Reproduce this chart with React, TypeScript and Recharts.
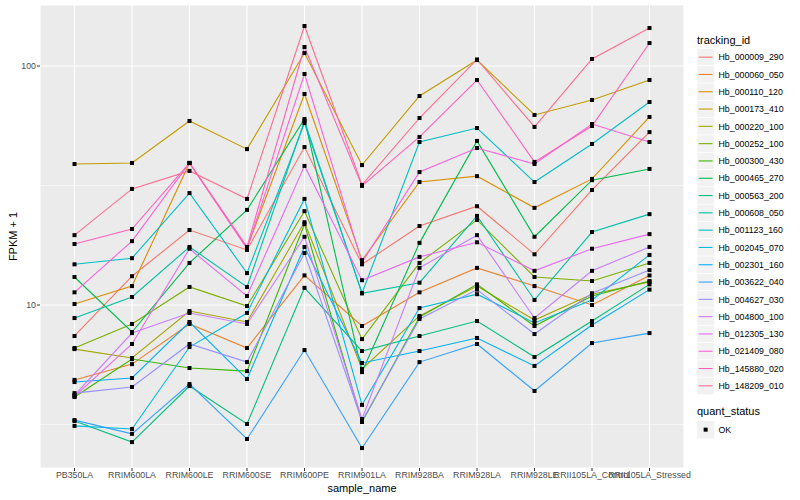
import React from 'react';
import { LineChart, Line, XAxis, YAxis, CartesianGrid, Customized } from 'recharts';

const categories = ['PB350LA', 'RRIM600LA', 'RRIM600LE', 'RRIM600SE', 'RRIM600PE', 'RRIM901LA', 'RRIM928BA', 'RRIM928LA', 'RRIM928LE', 'RRII105LA_Control', 'RRII105LA_Stressed'];

const trackingIds = ['Hb_000009_290', 'Hb_000060_050', 'Hb_000110_120', 'Hb_000173_410', 'Hb_000220_100', 'Hb_000252_100', 'Hb_000300_430', 'Hb_000465_270', 'Hb_000563_200', 'Hb_000608_050', 'Hb_001123_160', 'Hb_002045_070', 'Hb_002301_160', 'Hb_003622_040', 'Hb_004627_030', 'Hb_004800_100', 'Hb_012305_130', 'Hb_021409_080', 'Hb_145880_020', 'Hb_148209_010'];

const colors = ['#F8766D', '#EA8331', '#D89000', '#C09B00', '#A3A500', '#7CAE00', '#39B600', '#00BB4E', '#00BF7D', '#00C1A3', '#00BFC4', '#00BAE0', '#00B0F6', '#35A2FF', '#9590FF', '#C77CFF', '#E76BF3', '#FA62DB', '#FF62BC', '#FF6C91'];

const hb000009_290 = [7.42, 13.2, 20.6, 17.0, 45.8, 14.8, 21.4, 25.9, 16.3, 30.3, 52.9];
const hb000060_050 = [4.86, 5.66, 8.33, 6.61, 13.3, 8.17, 11.3, 14.3, 12.0, 10.0, 13.3];
const hb000110_120 = [10.1, 12.0, 39.3, 17.3, 76.4, 15.4, 32.7, 34.6, 25.5, 33.7, 61.2];
const hb000173_410 = [38.9, 39.3, 58.9, 44.9, 113.3, 38.5, 74.9, 105.9, 62.4, 72.1, 87.4];
const hb000220_100 = [6.54, 6.0, 9.44, 8.49, 22.2, 5.4, 9.0, 12.0, 8.65, 11.1, 12.5];
const hb000252_100 = [6.61, 8.33, 11.9, 9.9, 24.7, 7.2, 15.0, 22.7, 13.1, 12.6, 15.0];
const hb000300_430 = [4.12, 5.94, 5.45, 5.29, 21.8, 3.24, 8.9, 12.2, 8.17, 10.9, 12.6];
const hb000465_270 = [13.1, 7.71, 15.0, 25.0, 60.0, 5.24, 18.2, 48.6, 19.3, 33.3, 37.1];
const hb000563_200 = [3.27, 2.67, 4.58, 3.18, 11.8, 6.42, 7.42, 8.57, 6.06, 8.57, 12.2];
const hb000608_050 = [8.82, 10.8, 17.5, 11.9, 58.9, 11.2, 12.4, 23.6, 10.5, 20.2, 24.0];
const hb001123_160 = [14.8, 15.7, 29.4, 13.6, 57.7, 11.2, 48.1, 55.0, 32.7, 47.2, 70.7];
const hb002045_070 = [3.12, 3.03, 6.67, 9.26, 27.8, 3.82, 9.71, 11.1, 8.41, 10.5, 16.2];
const hb002301_160 = [4.76, 4.95, 8.49, 4.9, 17.5, 5.72, 6.42, 7.28, 5.56, 8.25, 11.6];
const hb003622_040 = [3.3, 2.89, 4.67, 2.75, 6.48, 2.52, 5.77, 6.87, 4.37, 6.93, 7.63];
const hb004627_030 = [4.28, 4.54, 6.87, 5.77, 16.5, 3.27, 8.74, 11.6, 7.56, 11.2, 14.0];
const hb004800_100 = [4.2, 7.63, 9.26, 8.33, 19.3, 3.33, 14.3, 19.6, 8.82, 13.9, 17.5];
const hb012305_130 = [4.15, 6.87, 17.2, 10.9, 38.2, 12.7, 15.9, 18.3, 13.9, 17.2, 19.8];
const hb021409_080 = [11.3, 18.5, 39.3, 17.2, 92.6, 15.1, 36.0, 45.4, 38.9, 57.2, 48.1];
const hb145880_020 = [18.0, 20.8, 39.3, 17.5, 120.1, 31.5, 50.5, 87.4, 39.7, 56.1, 124.8];
const hb148209_010 = [19.6, 30.6, 36.4, 27.8, 147.0, 31.8, 60.6, 106.5, 55.6, 107.0, 144.2];

const seriesValues = [hb000009_290, hb000060_050, hb000110_120, hb000173_410, hb000220_100, hb000252_100, hb000300_430, hb000465_270, hb000563_200, hb000608_050, hb001123_160, hb002045_070, hb002301_160, hb003622_040, hb004627_030, hb004800_100, hb012305_130, hb021409_080, hb145880_020, hb148209_010];

const yDomain = [2.08, 180];
const yMajorTicks = [10, 100];
const yMinorBreaks = [3.1623, 31.623];
const xTicks = categories.map((_, i) => i);

const data = categories.map((name, i) => {
  const row: any = { idx: i, name };
  seriesValues.forEach((vals, s) => { row['s' + s] = vals[i]; });
  return row;
});

const FONT = "'Liberation Sans', Arial, Helvetica, sans-serif";

const minorGenerator = (p: any) => {
  let top = 5;
  let h = 463;
  try {
    if (p && p.offset && typeof p.offset.top === 'number') { top = p.offset.top; h = p.offset.height; }
  } catch (e) { /* keep defaults */ }
  const lo = Math.log10(yDomain[0]);
  const hi = Math.log10(yDomain[1]);
  return yMinorBreaks.map((v) => top + (h * (hi - Math.log10(v))) / (hi - lo));
};

const Square = (props: any) => {
  const { cx, cy, index, dataKey } = props;
  if (cx == null || cy == null) return <g key={`${dataKey}-${index}`} />;
  return <rect key={`${dataKey}-${index}`} x={cx - 2} y={cy - 2} width={4} height={4} fill="#000" />;
};

const LegendSvg = () => {
  const x0 = 697;
  const top = 48.5;
  const step = 17.3;
  return (
    <g fontFamily={FONT}>
      <text x={x0} y={44} fontSize={11} fill="#000">tracking_id</text>
      {trackingIds.map((id, i) => {
        const y = top + i * step;
        return (
          <g key={id}>
            <rect x={x0} y={y} width={17.3} height={17.3} fill="#F2F2F2" stroke="#fff" strokeWidth={0.6} />
            <line x1={x0 + 1.7} x2={x0 + 15.6} y1={y + 8.65} y2={y + 8.65} stroke={colors[i]} strokeWidth={1.1} />
            <text x={x0 + 21.5} y={y + 8.65 + 3.2} fontSize={8.8} fill="#000">{id}</text>
          </g>
        );
      })}
      <text x={x0} y={415} fontSize={11} fill="#000">quant_status</text>
      <rect x={x0} y={421} width={17.3} height={17.3} fill="#F2F2F2" />
      <rect x={x0 + 6.65} y={427.65} width={4} height={4} fill="#000" />
      <text x={x0 + 21.5} y={432.8} fontSize={8.8} fill="#000">OK</text>
      <text x={362} y={492} fontSize={11} textAnchor="middle" fill="#000">sample_name</text>
      <text x={13} y={236.5} fontSize={11} textAnchor="middle" dominantBaseline="central" fill="#000" transform="rotate(-90 13 236.5)">FPKM + 1</text>
    </g>
  );
};

export default function App() {
  return (
    <div style={{ position: 'absolute', left: 0, top: 0, width: 800, height: 500, background: '#fff' }}>
      <LineChart width={800} height={500} data={data} margin={{ top: 5, right: 116, bottom: 0, left: 0 }}>
        <CartesianGrid fill="#EBEBEB" fillOpacity={1} stroke="#FFFFFF" strokeWidth={1.1} />
        <CartesianGrid
          vertical={false}
          stroke="#FFFFFF"
          strokeWidth={0.55}
          horizontalCoordinatesGenerator={minorGenerator}
        />
        <XAxis
          dataKey="idx"
          type="number"
          domain={[-0.6, 10.6]}
          ticks={xTicks}
          interval={0}
          tickFormatter={(v: number) => categories[v]}
          height={32}
          axisLine={false}
          tickSize={3}
          tickMargin={1}
          tickLine={{ stroke: '#333333' }}
          tick={{ fontSize: 8.8, fill: '#4D4D4D', fontFamily: FONT }}
          allowDataOverflow
        />
        <YAxis
          type="number"
          scale="log"
          domain={yDomain}
          ticks={yMajorTicks}
          allowDataOverflow
          width={40}
          axisLine={false}
          tickSize={3}
          tickMargin={1}
          tickLine={{ stroke: '#333333' }}
          tick={{ fontSize: 8.8, fill: '#4D4D4D', fontFamily: FONT }}
        />
        {seriesValues.map((_, s) => (
          <Line
            key={'l' + s}
            type="linear"
            dataKey={'s' + s}
            stroke={colors[s]}
            strokeWidth={1.1}
            dot={false}
            activeDot={false}
            isAnimationActive={false}
          />
        ))}
        {seriesValues.map((_, s) => (
          <Line
            key={'p' + s}
            type="linear"
            dataKey={'s' + s}
            stroke="none"
            dot={Square}
            activeDot={false}
            isAnimationActive={false}
          />
        ))}
        <Customized component={LegendSvg} />
      </LineChart>
    </div>
  );
}
